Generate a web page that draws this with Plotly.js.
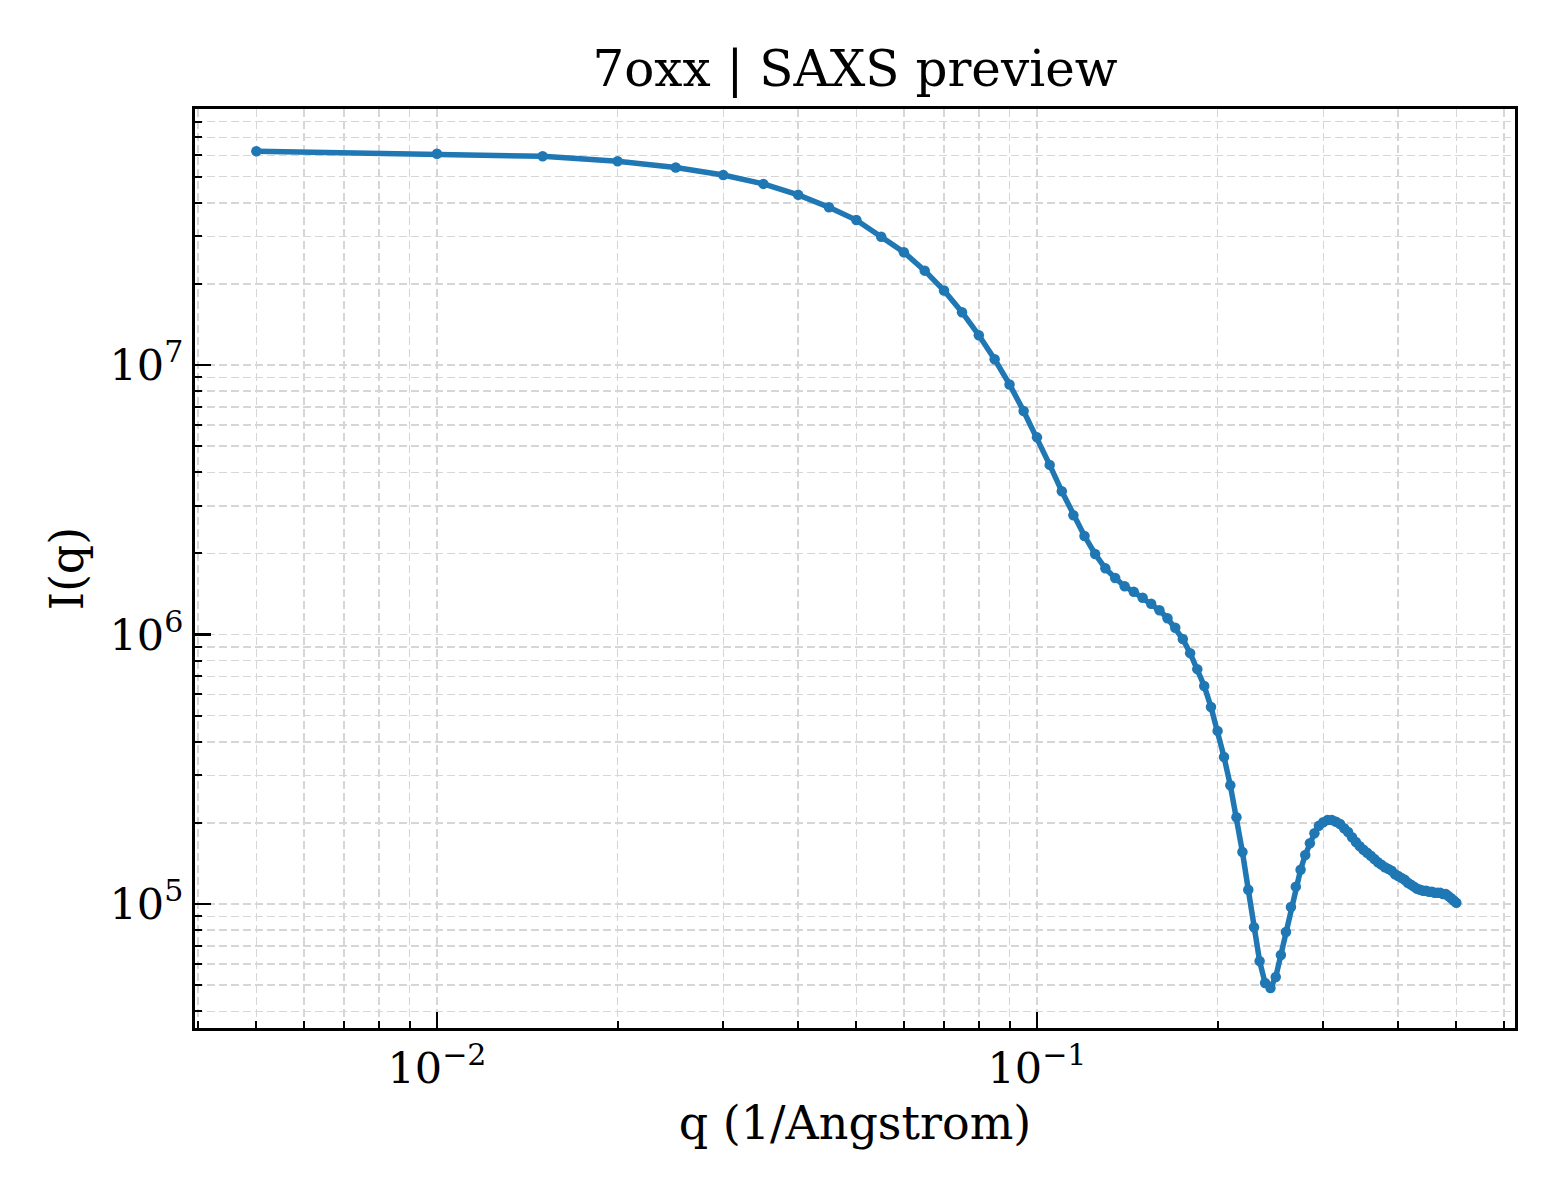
<!DOCTYPE html>
<html>
<head>
<meta charset="utf-8">
<script src="https://cdn.plot.ly/plotly-3.0.1.min.js"></script>
<style>
  body { margin: 0; background: #fff; }
  #saxsVis { width: 1560px; height: 1200px; }
</style>
</head>
<body>
<div id="saxsVis"></div>
<script>
// q in 1/Angstrom
var qList = [
  0.005, 0.010, 0.015, 0.020, 0.025, 0.030, 0.035, 0.040, 0.045, 0.050,
  0.055, 0.060, 0.065, 0.070, 0.075, 0.080, 0.085, 0.090, 0.095, 0.100,
  0.105, 0.110, 0.115, 0.120, 0.125, 0.130, 0.135, 0.140, 0.145, 0.150,
  0.155, 0.160, 0.165, 0.170, 0.175, 0.180, 0.185, 0.190, 0.195, 0.200,
  0.205, 0.210, 0.215, 0.220, 0.225, 0.230, 0.235, 0.240, 0.245, 0.250,
  0.255, 0.260, 0.265, 0.270, 0.275, 0.280, 0.285, 0.290, 0.295, 0.300,
  0.305, 0.310, 0.315, 0.320, 0.325, 0.330, 0.335, 0.340, 0.345, 0.350,
  0.355, 0.360, 0.365, 0.370, 0.375, 0.380, 0.385, 0.390, 0.395, 0.400,
  0.405, 0.410, 0.415, 0.420, 0.425, 0.430, 0.435, 0.440, 0.445, 0.450,
  0.455, 0.460, 0.465, 0.470, 0.475, 0.480, 0.485, 0.490, 0.495, 0.500
];
// intensity I(q)
var iqList = [
  6.21e7, 6.08e7, 5.95e7, 5.70e7, 5.41e7, 5.07e7, 4.70e7, 4.28e7, 3.85e7, 3.45e7,
  2.99e7, 2.62e7, 2.24e7, 1.89e7, 1.57e7, 1.29e7, 1.05e7, 8.47e6, 6.75e6, 5.39e6,
  4.26e6, 3.40e6, 2.77e6, 2.32e6, 1.99e6, 1.76e6, 1.62e6, 1.51e6, 1.44e6, 1.37e6,
  1.30e6, 1.23e6, 1.15e6, 1.06e6, 9.62e5, 8.53e5, 7.44e5, 6.44e5, 5.38e5, 4.39e5,
  3.51e5, 2.76e5, 2.10e5, 1.56e5, 1.13e5, 8.20e4, 6.14e4, 5.09e4, 4.88e4, 5.36e4,
  6.47e4, 7.88e4, 9.75e4, 1.16e5, 1.34e5, 1.52e5, 1.68e5, 1.83e5, 1.95e5, 2.01e5,
  2.05e5, 2.05e5, 2.02e5, 1.98e5, 1.91e5, 1.85e5, 1.77e5, 1.70e5, 1.64e5, 1.59e5,
  1.55e5, 1.51e5, 1.47e5, 1.43e5, 1.40e5, 1.37e5, 1.35e5, 1.33e5, 1.29e5, 1.27e5,
  1.25e5, 1.23e5, 1.20e5, 1.18e5, 1.16e5, 1.14e5, 1.13e5, 1.12e5, 1.12e5, 1.11e5,
  1.11e5, 1.10e5, 1.10e5, 1.10e5, 1.09e5, 1.09e5, 1.07e5, 1.05e5, 1.03e5, 1.01e5
];

var xTickVals = [0.01, 0.1];
var xTickText = ['10<sup>\u22122</sup>', '10<sup>\u22121</sup>'];
var yTickVals = [1e5, 1e6, 1e7];
var yTickText = ['10<sup>5</sup>', '10<sup>6</sup>', '10<sup>7</sup>'];

// minor ticks at 2..9 of every decade
function minorVals(lo, hi){
    var out = [];
    for (var e = lo; e <= hi; e++){
        for (var m = 2; m <= 9; m++){
            out.push(m * Math.pow(10, e));
        }
    }
    return out;
}

function plotSaxs(){
    var trace1 = {
        x: qList,
        y: iqList,
        mode: 'lines+markers',
        line: {color: '#1f77b4', width: 5.5},
        marker: {color: '#1f77b4', size: 10.5},
        showlegend: false
    };
    var gridDash = '8px,4px';
    var axisBase = {
        type: 'log',
        showline: true,
        linecolor: '#000',
        linewidth: 3,
        mirror: true,
        ticks: 'inside',
        ticklen: 16,
        tickwidth: 2.5,
        tickcolor: '#000',
        tickmode: 'array',
        tickfont: {family: 'DejaVu Serif', size: 43, color: '#000'},
        showgrid: true,
        gridcolor: '#d6d6d6',
        gridwidth: 1.5,
        griddash: gridDash,
        zeroline: false
    };
    var layout = {
        width: 1560,
        height: 1200,
        paper_bgcolor: '#fff',
        plot_bgcolor: '#fff',
        margin: {l: 195, r: 45, t: 109, b: 172},
        font: {family: 'DejaVu Serif', color: '#000'},
        title: {
            text: '7oxx | SAXS preview',
            font: {family: 'DejaVu Serif', size: 50, color: '#000'},
            xref: 'paper', x: 0.5, xanchor: 'center',
            yref: 'container', y: 1 - 68 / 1200, yanchor: 'middle'
        },
        xaxis: Object.assign({}, axisBase, {
            range: [-2.4033, -0.2033],
            tickvals: xTickVals,
            ticktext: xTickText,
            minor: {
                tickmode: 'array',
                tickvals: minorVals(-3, -1),
                ticks: 'inside', ticklen: 7, tickwidth: 2, tickcolor: '#000',
                showgrid: true, gridcolor: '#d6d6d6', gridwidth: 1.5, griddash: gridDash
            },
            title: {text: 'q (1/Angstrom)', font: {family: 'DejaVu Serif', size: 46, color: '#000'}, standoff: 16}
        }),
        yaxis: Object.assign({}, axisBase, {
            range: [4.540, 7.950],
            tickvals: yTickVals,
            ticktext: yTickText,
            minor: {
                tickmode: 'array',
                tickvals: minorVals(4, 7),
                ticks: 'inside', ticklen: 7, tickwidth: 2, tickcolor: '#000',
                showgrid: true, gridcolor: '#d6d6d6', gridwidth: 1.5, griddash: gridDash
            },
            title: {text: 'I(q)', font: {family: 'DejaVu Serif', size: 46, color: '#000'}, standoff: 12}
        })
    };
    Plotly.newPlot('saxsVis', [trace1], layout, {displayModeBar: false, staticPlot: true});
}
plotSaxs();
</script>
</body>
</html>
